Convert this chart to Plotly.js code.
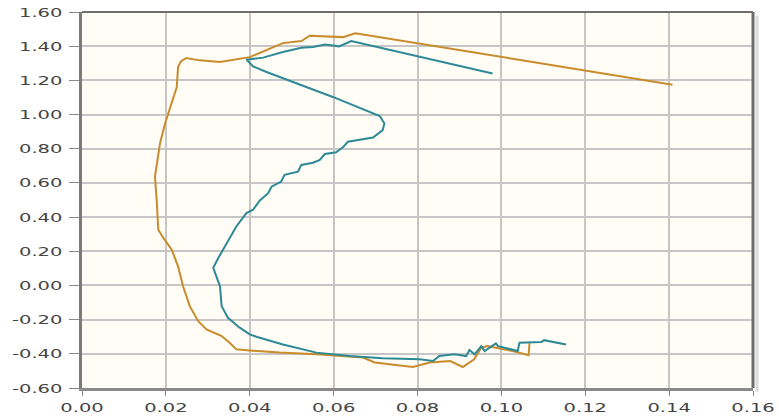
<!DOCTYPE html>
<html>
<head>
<meta charset="utf-8">
<script src="https://cdn.plot.ly/plotly-3.0.1.min.js"></script>
<style>
html,body{margin:0;padding:0;background:#fff;}
#chart{width:779px;height:420px;}
</style>
</head>
<body>
<div id="chart"></div>
<script>
// Orange series (x, y)
var orangeX = [0.1408,0.0652,0.0622,0.0543,0.0523,0.0479,0.0400,0.0329,0.0281,0.0249,0.0236,0.0229,0.0226,0.0210,0.0198,0.0186,0.0178,0.0174,0.0178,0.0182,0.0194,0.0214,0.0229,0.0241,0.0257,0.0277,0.0297,0.0333,0.0352,0.0368,0.0400,0.0471,0.0559,0.0670,0.0698,0.0789,0.0829,0.0878,0.0908,0.0935,0.0952,0.0967,0.0999,0.1027,0.1065,0.1067];
var orangeY = [1.175,1.476,1.453,1.461,1.430,1.418,1.336,1.307,1.317,1.331,1.312,1.278,1.161,1.045,0.948,0.831,0.715,0.637,0.501,0.326,0.278,0.209,0.112,-0.005,-0.121,-0.209,-0.257,-0.296,-0.335,-0.374,-0.381,-0.393,-0.403,-0.422,-0.451,-0.477,-0.451,-0.442,-0.477,-0.432,-0.364,-0.355,-0.370,-0.384,-0.408,-0.338];
// Teal series (x, y)
var tealX = [0.0979,0.0642,0.0613,0.0579,0.0551,0.0523,0.0479,0.0432,0.0400,0.0392,0.0408,0.0440,0.0598,0.0710,0.0721,0.0717,0.0694,0.0662,0.0634,0.0622,0.0606,0.0579,0.0567,0.0551,0.0523,0.0515,0.0483,0.0475,0.0452,0.0444,0.0424,0.0408,0.0392,0.0368,0.0345,0.0325,0.0313,0.0321,0.0329,0.0333,0.0348,0.0376,0.0400,0.0416,0.0479,0.0559,0.0638,0.0717,0.0805,0.0837,0.0852,0.0888,0.0916,0.0924,0.0936,0.0952,0.0960,0.0987,0.0992,0.1039,0.1043,0.1095,0.1102,0.1154];
var tealY = [1.240,1.430,1.399,1.410,1.395,1.391,1.366,1.333,1.323,1.322,1.282,1.249,1.103,0.991,0.948,0.909,0.866,0.851,0.841,0.808,0.779,0.769,0.734,0.718,0.705,0.666,0.647,0.608,0.578,0.540,0.497,0.443,0.423,0.345,0.248,0.161,0.103,0.054,-0.005,-0.121,-0.189,-0.247,-0.286,-0.300,-0.345,-0.393,-0.413,-0.426,-0.432,-0.442,-0.413,-0.403,-0.413,-0.378,-0.403,-0.355,-0.384,-0.339,-0.355,-0.384,-0.335,-0.331,-0.320,-0.345];
var xTicks = [0,0.02,0.04,0.06,0.08,0.10,0.12,0.14,0.16];
var yTicks = [-0.6,-0.4,-0.2,0,0.2,0.4,0.6,0.8,1.0,1.2,1.4,1.6];

var traces = [
  {x: orangeX, y: orangeY, type:'scatter', mode:'lines', line:{color:'#c98b2c', width:2, shape:'linear'}, hoverinfo:'skip'},
  {x: tealX, y: tealY, type:'scatter', mode:'lines', line:{color:'#2e8997', width:2, shape:'linear'}, hoverinfo:'skip'}
];
var layout = {
  width:779, height:420,
  margin:{l:82, r:26, t:12, b:32, pad:0},
  paper_bgcolor:'#ffffff',
  plot_bgcolor:'#fffdf6',
  showlegend:false,
  font:{family:'DejaVu Sans, Verdana, sans-serif', size:13, color:'#444'},
  xaxis:{
    range:[0,0.16], tickvals:xTicks, ticktext:xTicks.map(function(v){return v.toFixed(2);}),
    showgrid:true, gridcolor:'#c6c6c6', gridwidth:2,
    zeroline:false, showline:true, linecolor:'#8a8a8a', linewidth:3,
    ticks:'outside', ticklen:5, tickcolor:'#8a8a8a', tickwidth:1,
    mirror:false, fixedrange:true
  },
  yaxis:{
    range:[-0.6,1.6], tickvals:yTicks, ticktext:yTicks.map(function(v){return v.toFixed(2);}),
    showgrid:true, gridcolor:'#c6c6c6', gridwidth:2,
    zeroline:false, showline:true, linecolor:'#7a7a7a', linewidth:3,
    ticks:'outside', ticklen:10, tickcolor:'#8a8a8a', tickwidth:1,
    ticklabelstandoff:4,
    mirror:false, fixedrange:true
  },
  shapes:[
    {type:'line', xref:'paper', yref:'paper', x0:0, x1:1, y0:1, y1:1, line:{color:'#6e6e6e', width:2}},
    {type:'line', xref:'paper', yref:'paper', x0:1, x1:1, y0:0, y1:1, line:{color:'#6e6e6e', width:3}},
    {type:'line', xref:'paper', yref:'paper', x0:1.006, x1:1.006, y0:-0.01, y1:0.99, line:{color:'#dcdcdc', width:3}}
  ]
};
Plotly.newPlot('chart', traces, layout, {staticPlot:true, displayModeBar:false}).then(function(gd){
  var sx = 1.5;
  gd.querySelectorAll('.xtick text, .ytick text').forEach(function(t){
    var x = parseFloat(t.getAttribute('x')) || 0;
    var tr = t.getAttribute('transform') || '';
    t.setAttribute('transform', tr + ' translate(' + x + ',0) scale(' + sx + ',1) translate(' + (-x) + ',0)');
  });
});
</script>
</body>
</html>
